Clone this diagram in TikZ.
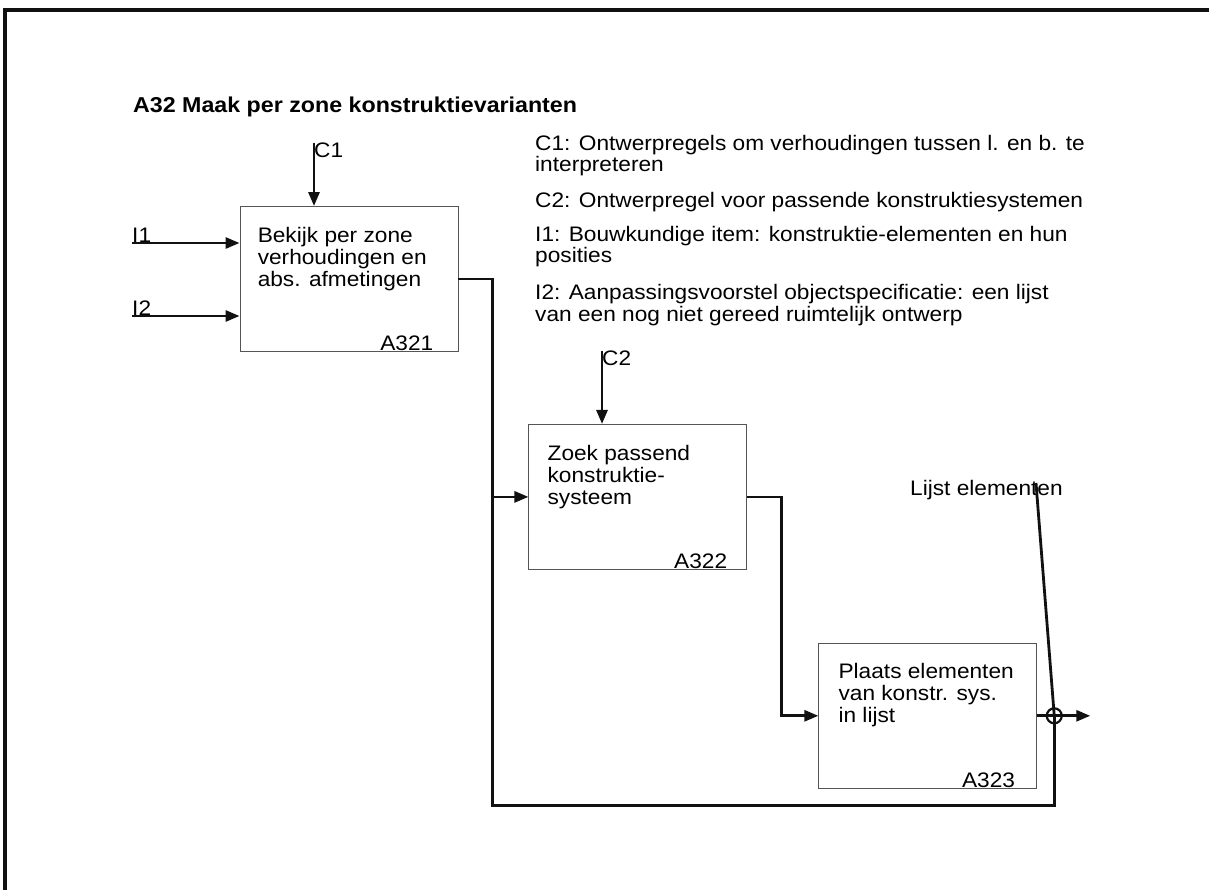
\documentclass[tikz,border=0pt]{standalone}
\usepackage{fontspec}
\setmainfont{Liberation Sans}[FakeStretch=1.08]
\usepackage{tikz}
\usetikzlibrary{arrows.meta, positioning}
\definecolor{Ink}{HTML}{111111}
\definecolor{Edge}{HTML}{555555}

\begin{document}
\begin{tikzpicture}[x=1pt, y=-1pt,
  box/.style={draw=Edge, line width=0.9pt, minimum width=218pt, minimum height=145pt, inner sep=0pt},
  boxtext/.style={anchor=base west, align=left, inner sep=0pt, font=\fontsize{21}{22}\selectfont},
  boxid/.style={anchor=base east, inner sep=0pt, font=\fontsize{21}{22}\selectfont},
  lbl/.style={inner sep=0pt, font=\fontsize{21}{22}\selectfont},
  note/.style={anchor=base west, align=left, inner sep=0pt, font=\fontsize{21}{21}\selectfont},
  arrow/.style={-{Triangle[length=14pt, width=11pt]}, line width=2.8pt, color=Ink},
  wire/.style={line width=2.8pt, color=Ink},
  joint/.style={circle, draw=Ink, line width=2.2pt, minimum size=15pt, inner sep=0pt}
]
\useasboundingbox (0,0) rectangle (1209,890);
\draw[line width=3.5pt, color=Ink] (5,890) -- (5,10) -- (1209,10);

% title and legend
\node[lbl, anchor=base west, font=\fontsize{21.5}{22}\selectfont\bfseries] (title) at (133,113) {A32 Maak per zone konstruktievarianten};
\node[note] (nc1) at (535,172) {C1: Ontwerpregels om verhoudingen tussen l. en b. te\\interpreteren};
\node[note] (nc2) at (535,208) {C2: Ontwerpregel voor passende konstruktiesystemen};
\node[note] (ni1) at (535,263) {I1: Bouwkundige item: konstruktie-elementen en hun\\posities};
\node[note] (ni2) at (535,321) {I2: Aanpassingsvoorstel objectspecificatie: een lijst\\van een nog niet gereed ruimtelijk ontwerp};

% activity boxes
\node[box] (a321) at (349,279) {};
\node[box, below right=72pt and 70pt of a321] (a322) {};
\node[box, below right=73pt and 71pt of a322] (a323) {};

\node[boxtext] (t321) at ([shift={(18,80)}]a321.north west) {Bekijk per zone\\verhoudingen en\\abs. afmetingen};
\node[boxtext] (t322) at ([shift={(19,81)}]a322.north west) {Zoek passend\\konstruktie-\\systeem};
\node[boxtext] (t323) at ([shift={(20,80)}]a323.north west) {Plaats elementen\\van konstr. sys.\\in lijst};
\node[boxid] (n321) at ([shift={(-25,-1)}]a321.south east) {A321};
\node[boxid] (n322) at ([shift={(-20,-1)}]a322.south east) {A322};
\node[boxid] (n323) at ([shift={(-22,-1)}]a323.south east) {A323};

% controls and inputs
\node[lbl, anchor=north west] (c1) at (314,143) {C1};
\node[lbl, anchor=north west] (c2) at (602,351) {C2};
\node[lbl, anchor=base west] (i1) at (132,243) {I1};
\node[lbl, anchor=base west] (i2) at (132,316) {I2};
\draw[arrow] (c1.north west) -- (c1.north west |- a321.north);
\draw[arrow] (c2.north west) -- (c2.north west |- a322.north);
\draw[arrow] (i1.base west) -- (i1.base west -| a321.west);
\draw[arrow] (i2.base west) -- (i2.base west -| a321.west);

% flows
\node[joint] (join) at ([xshift=17pt]a323.east) {};
\coordinate (low) at ([yshift=-17pt]a323.south);
\draw[arrow] (a321.east) -- ++(34,0) |- (a322.west);
\draw[wire] ([xshift=34pt]a321.east) |- (low -| join.center) -- (join.center);
\draw[arrow] (a322.east) -- ++(34,0) |- (a323.west);
\draw[arrow] (a323.east) -- ([xshift=36pt]join.center);

% output
\node[lbl, anchor=base west] (out) at (910,495) {Lijst elementen};
\coordinate (tap) at (1036,483);
\draw[wire] (tap) -- (join.center);
\end{tikzpicture}
\end{document}
